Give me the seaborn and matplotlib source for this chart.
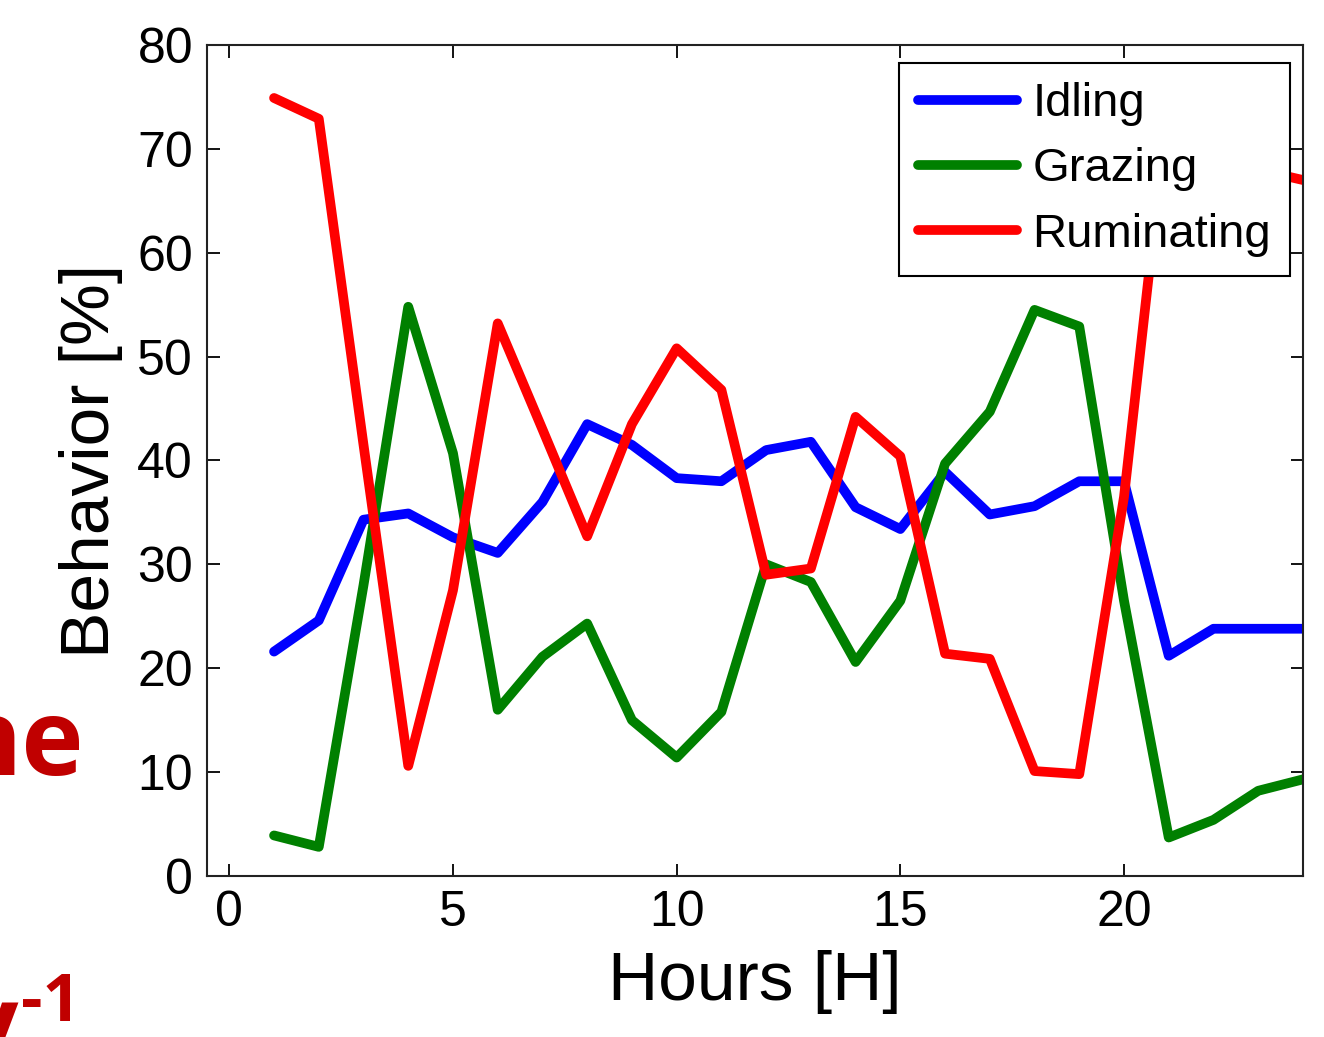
"""Hourly behaviour profile: idling, grazing and ruminating shares."""

import matplotlib

matplotlib.use("Agg")

import matplotlib.pyplot as plt
import pandas as pd
import seaborn as sns

hours = list(range(1, 25))
idling = [21.6, 24.6, 34.3, 34.9, 32.6, 31.1, 36.0, 43.5, 41.5, 38.3, 38.0, 41.0,
          41.8, 35.5, 33.4, 38.9, 34.8, 35.6, 38.0, 38.0, 21.2, 23.8, 23.8, 23.8]
grazing = [3.9, 2.8, 28.0, 54.8, 40.7, 16.0, 21.1, 24.3, 15.0, 11.4, 15.8, 30.0,
           28.3, 20.6, 26.5, 39.7, 44.7, 54.5, 52.9, 26.5, 3.7, 5.4, 8.2, 9.3]
ruminating = [74.9, 72.9, 41.5, 10.6, 27.5, 53.2, 43.0, 32.7, 43.5, 50.8, 46.8, 29.0,
              29.6, 44.2, 40.4, 21.4, 20.9, 10.1, 9.8, 36.5, 75.0, 70.8, 68.0, 67.0]

behaviours = ["Idling", "Grazing", "Ruminating"]
colors = {"Idling": "#0000ff", "Grazing": "#008000", "Ruminating": "#ff0000"}
x_ticks = [0, 5, 10, 15, 20]
y_ticks = list(range(0, 81, 10))

df = pd.DataFrame({"Hour": hours, "Idling": idling,
                   "Grazing": grazing, "Ruminating": ruminating})
long = df.melt(id_vars="Hour", value_vars=behaviours,
               var_name="Behavior", value_name="Percent")

sns.set_style("ticks")
plt.rcParams["font.family"] = ["Liberation Sans", "DejaVu Sans"]
plt.rcParams.update({"text.color": "black", "axes.labelcolor": "black",
                     "xtick.color": "black", "ytick.color": "black"})

fig = plt.figure(figsize=(13.24, 10.37), dpi=100)
ax = fig.add_axes([0.1563, 0.1553, 0.8278, 0.8013])

sns.lineplot(data=long, x="Hour", y="Percent", hue="Behavior",
             hue_order=behaviours, palette=colors, linewidth=7,
             ax=ax, legend="brief")

ax.set_xlim(-0.5, 24)
ax.set_ylim(0, 80)
ax.set_xticks(x_ticks)
ax.set_yticks(y_ticks)
ax.set_xlabel("Hours [H]", fontsize=50, labelpad=10)
ax.set_ylabel("Behavior [%]", fontsize=50, labelpad=10)
ax.tick_params(direction="in", length=9, width=1.3, labelsize=36,
               top=True, right=True, pad=10)
for s in ax.spines.values():
    s.set_visible(True)
    s.set_linewidth(1.5)
    s.set_color("#222222")

handles, labels = ax.get_legend_handles_labels()
leg = ax.legend(handles, labels, loc="upper right",
                bbox_to_anchor=(0.988, 0.978), borderaxespad=0,
                fontsize=34, handlelength=2.1, handletextpad=0.32,
                labelspacing=0.45, borderpad=0.4, fancybox=False,
                framealpha=1, edgecolor="black")
leg.get_frame().set_linewidth(1.5)
for ln in leg.get_lines():
    ln.set_linewidth(7)

# fragments of slide text cut off at the left edge
fig.text(84 / 1324, 1 - 775 / 1037, "ne", color="#c00000", fontsize=76,
         fontweight="bold", family="Open Sans", ha="right", va="baseline")
fig.text(18 / 1324, 1 - 1058 / 1037, "y", color="#c00000", fontsize=74,
         fontweight="bold", family="Open Sans", ha="right", va="baseline")
fig.text(21 / 1324, 1 - 1021 / 1037, "-1", color="#c00000", fontsize=48,
         fontweight="bold", family="Open Sans", ha="left", va="baseline",
         zorder=5)

fig.savefig("out.png", dpi=100)
